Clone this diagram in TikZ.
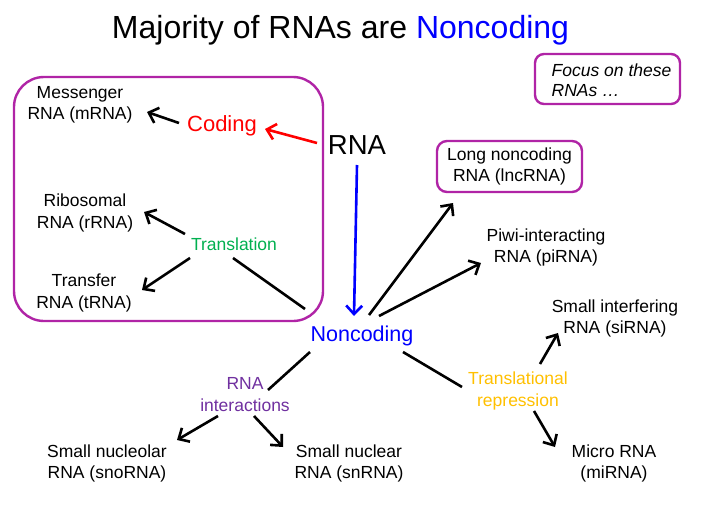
\documentclass[tikz,border=0pt]{standalone}
\usepackage{fontspec}
\setmainfont{Liberation Sans}
\usetikzlibrary{arrows.meta,calc}
\definecolor{boxc}{RGB}{176,36,166}
\definecolor{ncblue}{RGB}{0,0,255}
\definecolor{cred}{RGB}{255,0,0}
\definecolor{tgreen}{RGB}{0,176,80}
\definecolor{ipurple}{RGB}{112,48,160}
\definecolor{rgold}{RGB}{255,192,0}
\begin{document}
\begin{tikzpicture}[x=1pt,y=-1pt,
  lbl/.style={align=center,inner sep=0pt,font=\fontsize{17.5}{21.5}\selectfont},
  arr/.style={line width=2.6pt,-{Straight Barb[length=8.5pt,width=16pt]}},
  ln/.style={line width=2.6pt},
  frame/.style={draw=boxc,line width=2.4pt}]
\useasboundingbox[fill=white] (0,0) rectangle (718,530);

% title
\node[inner sep=0pt,font=\fontsize{32}{38}\selectfont] (title) at (340.5,30) {Majority of RNAs are \textcolor{ncblue}{Noncoding}};

% focus box
\node[frame,rounded corners=9pt,minimum width=145pt,minimum height=50pt,inner sep=0pt] (focus) at (607.5,79) {};
\node[anchor=west,inner sep=0pt,align=left,font=\fontsize{17.5}{20.5}\selectfont\itshape] (focustext) at (551.5,80) {Focus on these\\RNAs …};

% coding frame
\node[frame,rounded corners=30pt,minimum width=309pt,minimum height=244pt,inner sep=0pt] (cbox) at (168.5,199) {};

% nodes
\node[lbl] (mrna) at (80,105) {Messenger\\RNA (mRNA)};
\node[lbl] (rrna) at (85,213) {Ribosomal\\RNA (rRNA)};
\node[lbl] (trna) at (84,293) {Transfer\\RNA (tRNA)};
\node[inner sep=0pt,font=\fontsize{22}{26}\selectfont,text=cred] (coding) at (222,126) {Coding};
\node[inner sep=0pt,font=\fontsize{27.5}{32}\selectfont] (rna) at (357,145) {RNA};
\node[lbl,text=tgreen] (tl) at (234,244) {Translation};
\node[inner sep=0pt,font=\fontsize{21.5}{26}\selectfont,text=ncblue] (nc) at (362,336) {Noncoding};
\node[frame,lbl,rounded corners=10pt,minimum width=145pt,minimum height=51pt] (lnc) at (509.5,166.5) {Long noncoding\\RNA (lncRNA)};
\node[lbl] (piwi) at (546,247.5) {Piwi-interacting\\RNA (piRNA)};
\node[lbl] (si) at (615,318.5) {Small interfering\\RNA (siRNA)};
\node[lbl,text=rgold] (trep) at (518,391) {Translational\\repression};
\node[lbl,text=ipurple] (rint) at (245,394.5) {RNA\\interactions};
\node[lbl] (sno) at (107,463.5) {Small nucleolar\\RNA (snoRNA)};
\node[lbl] (sn) at (349,463.5) {Small nuclear\\RNA (snRNA)};
\node[lbl] (mi) at (614,463.5) {Micro RNA\\(miRNA)};

% connectors
\draw[arr,draw=cred] ($(rna)+(-40,-2)$) -- ($(coding)+(43,3)$);
\draw[arr] ($(coding)+(-43,-3)$) -- ($(mrna)+(67,7)$);
\draw[arr] ($(tl)+(-49,-10)$) -- ($(rrna)+(59,-1)$);
\draw[arr] ($(tl)+(-44,14)$) -- ($(trna)+(58,-3)$);
\draw[ln] ($(tl)+(-1,14)$) -- ($(nc)+(-57,-27)$);
\draw[arr,draw=ncblue] ($(rna)+(0,20)$) -- ($(nc)+(-8,-20)$);
\draw[arr] ($(nc)+(7,-21)$) -- ($(lnc)+(-56.5,36.5)$);
\draw[arr] ($(nc)+(17,-20)$) -- ($(piwi)+(-65,15.5)$);
\draw[ln] ($(nc)+(41,16)$) -- ($(trep)+(-56,-4)$);
\draw[arr] ($(trep)+(22,-27)$) -- ($(si)+(-57,14.5)$);
\draw[arr] ($(trep)+(16,20)$) -- ($(mi)+(-59,-16.5)$);
\draw[ln] ($(nc)+(-52,16)$) -- ($(rint)+(23,-4.5)$);
\draw[arr] ($(rint)+(-27,21.5)$) -- ($(sno)+(70,-23.5)$);
\draw[arr] ($(rint)+(9,21.5)$) -- ($(sn)+(-66,-16.5)$);
\end{tikzpicture}
\end{document}
